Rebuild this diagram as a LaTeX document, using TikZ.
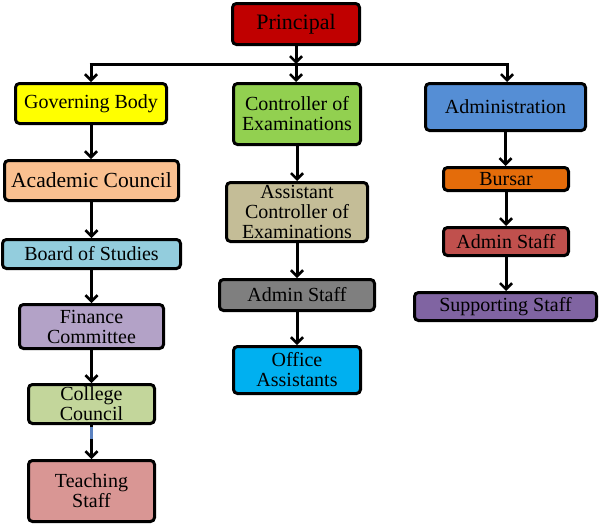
\documentclass[tikz,border=0pt]{standalone}
\usepackage{fontspec}
\setmainfont{Liberation Serif}
\usetikzlibrary{arrows.meta}
\definecolor{cPrin}{HTML}{C00000}
\definecolor{cGB}{HTML}{FFFF00}
\definecolor{cCE}{HTML}{92D050}
\definecolor{cAdm}{HTML}{558ED5}
\definecolor{cAC}{HTML}{FAC090}
\definecolor{cBoS}{HTML}{93CDDD}
\definecolor{cACE}{HTML}{C4BD97}
\definecolor{cBur}{HTML}{E46C0A}
\definecolor{cAdR}{HTML}{C0504D}
\definecolor{cSup}{HTML}{8064A2}
\definecolor{cAdM}{HTML}{7F7F7F}
\definecolor{cOA}{HTML}{00B0F0}
\definecolor{cFC}{HTML}{B3A2C7}
\definecolor{cCC}{HTML}{C3D69B}
\definecolor{cTS}{HTML}{D99694}
\definecolor{cBlueLine}{HTML}{5B82C0}
\tikzset{
  box/.style={draw=black, line width=3pt, rounded corners=4pt, inner sep=0pt,
    align=center, font=\fontsize{20}{20}\selectfont},
  conn/.style={line width=3pt, -{Straight Barb[length=6pt,width=12pt,line width=2.6pt]}},
  plain/.style={line width=3pt}
}
\newcommand{\bx}[7]{% name, cx, cy, w, h, color, text
  \node[box, fill=#6, minimum width=#4pt-3pt, minimum height=#5pt-3pt] (#1) at (#2,#3) {#7};}
\begin{document}
\begin{tikzpicture}[x=1pt,y=-1pt]
\useasboundingbox (0,0) rectangle (600,525);
% nodes
\node[box, fill=cPrin, minimum width=127pt, minimum height=41pt, font=\fontsize{22}{22}\selectfont] (prin) at (296,24) {Principal};
\bx{gb}{91}{103.5}{154}{43}{cGB}{Governing Body}
\bx{ce}{297}{114}{130}{64}{cCE}{\fontsize{20}{18}\selectfont Controller of\\ \fontsize{20}{18}\selectfont Examinations}
\bx{adm}{505.5}{107}{163}{50}{cAdm}{Administration}
\node[box, fill=cAC, minimum width=174pt, minimum height=40pt, font=\fontsize{21.5}{21}\selectfont] (ac) at (91.5,180.5) {Academic Council};
\bx{bos}{91.5}{254}{181}{32}{cBoS}{Board of Studies}
\bx{ace}{297}{212}{144}{62}{cACE}{Assistant\\Controller of\\Examinations}
\bx{bur}{506}{179}{128}{26}{cBur}{Bursar}
\bx{adr}{506}{241.5}{128}{31}{cAdR}{Admin Staff}
\bx{sup}{505.5}{306.5}{185}{31}{cSup}{Supporting Staff}
\bx{adm2}{297}{295}{158}{34}{cAdM}{Admin Staff}
\bx{oa}{297}{370}{130}{50}{cOA}{Office\\Assistants}
\bx{fc}{91.5}{326.5}{147}{47}{cFC}{Finance\\Committee}
\bx{cc}{91.5}{404}{129}{42}{cCC}{College\\Council}
\bx{ts}{91.5}{491}{129}{64}{cTS}{Teaching\\Staff}
% bar coordinates
\coordinate (barM) at (296,64);
\coordinate (barL) at (91,64);
\coordinate (barR) at (507,64);
% connectors
\draw[conn] (prin.south) -- (barM);
\draw[plain] ([xshift=-1.5pt]barL) -- ([xshift=1.5pt]barR);
\draw[conn] (barL) -- (barL |- gb.north);
\draw[conn] (barM) -- (barM |- ce.north);
\draw[conn] (barR) -- (barR |- adm.north);
\draw[conn] (gb.south) -- (gb.south |- ac.north);
\draw[conn] (ac.south) -- (ac.south |- bos.north);
\draw[conn] (bos.south) -- (bos.south |- fc.north);
\draw[conn] (fc.south) -- (fc.south |- cc.north);
\draw[conn] (cc.south) -- (cc.south |- ts.north);
\coordinate (ccblue) at ([yshift=-14pt]cc.south);
\draw[line width=2.4pt, cBlueLine] ([yshift=-1.6pt]cc.south) -- (ccblue);
\draw[conn] (ce.south) -- (ce.south |- ace.north);
\draw[conn] (ace.south) -- (ace.south |- adm2.north);
\draw[conn] (adm2.south) -- (adm2.south |- oa.north);
\draw[conn] (adm.south) -- (adm.south |- bur.north);
\draw[conn] (bur.south) -- (bur.south |- adr.north);
\draw[conn] (adr.south) -- (adr.south |- sup.north);
\end{tikzpicture}
\end{document}
